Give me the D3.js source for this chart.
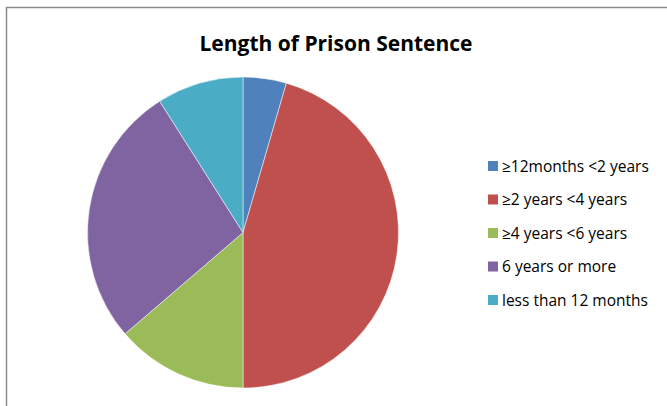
<!DOCTYPE html>
<html><head><meta charset="utf-8">
<script src="https://cdn.jsdelivr.net/npm/d3@7/dist/d3.min.js"></script>
<style>body{margin:0;background:#fff}svg{display:block}</style>
</head><body>
<svg id="c" width="667" height="406"></svg>
<script>
const categories = ["≥12months <2 years", "≥2 years <4 years", "≥4 years <6 years", "6 years or more", "less than 12 months"];
const values = [4.5, 45.5, 13.7, 27.3, 9.0];
const colors = ["#4F81BD", "#C0504D", "#9BBB59", "#8064A2", "#4BACC6"];
const title = "Length of Prison Sentence";

const svg = d3.select("#c");
svg.append("path").attr("d", "M6.5,406 L6.5,7.5 L667,7.5")
  .attr("fill", "none").attr("stroke", "#8c8c8c").attr("stroke-width", 1.5);

svg.append("text").attr("x", 336).attr("y", 51).attr("text-anchor", "middle")
  .attr("font-family", "'Open Sans', 'Liberation Sans', sans-serif").attr("font-weight", "bold")
  .attr("font-size", 21).attr("fill", "#000").text(title);

const data = categories.map((c, i) => ({c, v: values[i], col: colors[i]}));
const pie = d3.pie().value(d => d.v).sort(null);
const arc = d3.arc().innerRadius(0).outerRadius(155.5);
const g = svg.append("g").attr("transform", "translate(243,232.5)");
g.selectAll("path").data(pie(data)).join("path")
  .attr("d", arc).attr("fill", d => d.data.col)
  .attr("stroke", "#fff").attr("stroke-width", 0.5);

const color = d3.scaleOrdinal().domain(categories).range(colors);
const y = d3.scalePoint().domain(categories).range([166, 300]);
const leg = svg.append("g");
const items = leg.selectAll("g").data(categories).join("g")
  .attr("transform", d => `translate(488,${y(d)})`);
items.append("rect").attr("x", 0).attr("y", -5).attr("width", 10).attr("height", 10)
  .attr("fill", d => color(d));
items.append("text").attr("x", 14).attr("y", 5.5)
  .attr("font-family", "'Open Sans', 'Liberation Sans', sans-serif").attr("font-size", 15.5)
  .attr("fill", "#000").text(d => d);
</script>
</body></html>
